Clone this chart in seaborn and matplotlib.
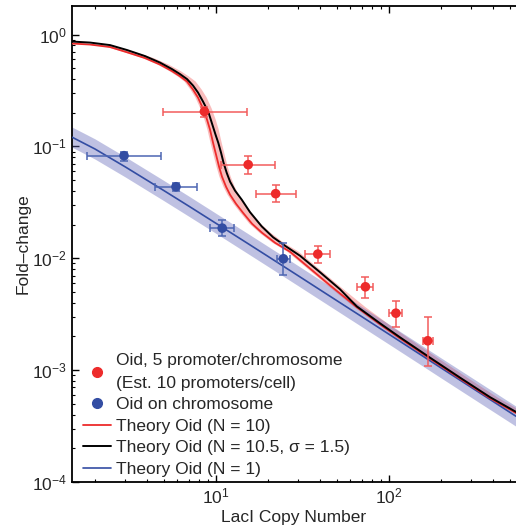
import numpy as np
import pandas as pd
import matplotlib
matplotlib.use("Agg")
import matplotlib.pyplot as plt
import seaborn as sns
from matplotlib.lines import Line2D

# ---------------- data ----------------
# Oid, 5 promoters/chromosome (red points)
red_x = [8.6, 15.4, 22.2, 38.9, 73.3, 110.0, 168.0]
red_y = [0.205, 0.0687, 0.0378, 0.0109, 0.00556, 0.00323, 0.00183]
red_x_lo = [4.95, 10.7, 17.1, 32.8, 65.3, 100.5, 157.0]
red_x_hi = [15.2, 22.1, 29.0, 45.8, 81.5, 120.0, 179.5]
red_y_lo = [0.185, 0.057, 0.032, 0.00906, 0.0044, 0.00245, 0.0011]
red_y_hi = [0.227, 0.0826, 0.0455, 0.0130, 0.00687, 0.00419, 0.00298]

# Oid on chromosome (blue points)
blue_x = [2.95, 5.89, 10.9, 24.6]
blue_y = [0.0826, 0.0436, 0.0186, 0.0099]
blue_x_lo = [1.80, 4.46, 9.27, 22.7]
blue_x_hi = [4.83, 7.8, 12.8, 26.9]
blue_y_lo = [0.0745, 0.0402, 0.0157, 0.00712]
blue_y_hi = [0.0897, 0.0474, 0.0221, 0.0138]

# Theory Oid (N = 10)
th_red_x = [1.477, 1.877, 2.449, 3.072, 3.902, 4.764, 5.589, 6.217, 6.825, 7.393, 7.9,
            8.446, 8.906, 9.268, 9.647, 10.04, 10.45, 10.87, 11.47, 12.1, 13.1, 14.38,
            16.21, 18.52, 22.02, 26.89, 35.09, 45.8, 65.3, 89.1, 116.2, 173.3, 258.3,
            385.1, 544.3]
th_red_y = [0.831, 0.814, 0.773, 0.694, 0.616, 0.539, 0.471, 0.4234, 0.3797, 0.322, 0.273,
            0.2177, 0.1735, 0.1412, 0.108, 0.0844, 0.0659, 0.0536, 0.0436, 0.037, 0.0307, 0.0255,
            0.02036, 0.0169, 0.01376, 0.01143, 0.00809, 0.00572, 0.00366, 0.002567, 0.001923,
            0.001266, 0.00084, 0.000561, 0.000414]
# band around it: upper (right-shifted) and lower (left-shifted) edges
red_band_hi_x = [1.477, 1.657, 2.106, 2.748, 3.447, 4.378, 5.345, 6.271, 6.975, 7.658, 8.295,
                 8.864, 9.476, 9.993, 10.40, 10.82, 11.26, 11.72, 12.20, 12.87, 13.58, 14.70,
                 16.13, 18.19, 20.78, 24.71, 30.17, 39.37, 51.39, 73.27, 99.97, 130.4, 194.4,
                 289.8, 432.1, 610.7]
red_band_hi_y = [0.836] + th_red_y
red_band_lo_x = [1.427, 1.814, 2.366, 2.968, 3.770, 4.603, 5.400, 6.007, 6.594, 7.143, 7.633,
                 8.160, 8.605, 8.955, 9.321, 9.700, 10.10, 10.50, 11.08, 11.69, 12.66, 13.89,
                 15.66, 17.89, 21.28, 25.98, 33.90, 44.25, 63.09, 86.09, 112.3, 167.4, 249.6,
                 372.1, 525.9, 544.3]
red_band_lo_y = th_red_y + [0.0004]

# Theory Oid (N = 10.5, sigma = 1.5)
th_black_x = [1.477, 1.877, 2.449, 3.072, 3.902, 4.764, 5.589, 6.217, 6.825, 7.393, 7.9,
              8.446, 9.063, 9.519, 9.972, 10.35, 10.73, 11.09, 11.58, 12.1, 12.93, 14.14,
              15.79, 18.45, 21.44, 25.5, 30.71, 40.09, 52.3, 65.3, 89.1, 116.2, 173.3,
              258.3, 385.1, 544.3]
th_black_y = [0.866, 0.848, 0.805, 0.727, 0.642, 0.5615, 0.491, 0.443, 0.3997, 0.3497, 0.3027,
              0.2514, 0.2033, 0.1598, 0.1274, 0.1074, 0.0879, 0.0716, 0.0579, 0.0484, 0.0402,
              0.0334, 0.0258, 0.01926, 0.01542, 0.01275, 0.01053, 0.0075, 0.00528, 0.00372,
              0.00262, 0.001964, 0.001292, 0.000857, 0.000573, 0.000423]

# Theory Oid (N = 1) with band
th_blue_x = [1.476, 2.0, 3.0, 5.0, 7.0, 10.0, 15.0, 20.0, 30.0, 50.0, 70.0,
             100.0, 150.0, 200.0, 300.0, 400.0, 544.0]
th_blue_y = [0.121, 0.095, 0.0656, 0.0404, 0.0292, 0.0206, 0.01384, 0.01042, 0.00697,
             0.00419, 0.0030, 0.0021, 0.0014, 0.00105, 0.000701, 0.000526, 0.000387]
th_blue_lo = [0.0984, 0.0772, 0.0533, 0.0328, 0.0237, 0.01675, 0.01125, 0.00847, 0.00567,
              0.00341, 0.00244, 0.00171, 0.00114, 0.000854, 0.00057, 0.000428, 0.000315]
th_blue_hi = [0.149, 0.117, 0.0807, 0.0497, 0.0359, 0.0253, 0.0170, 0.0128, 0.00857,
              0.00515, 0.00369, 0.00258, 0.00172, 0.00129, 0.000862, 0.000647, 0.000476]

labels = ["Oid, 5 promoter/chromosome\n(Est. 10 promoters/cell)",
          "Oid on chromosome",
          "Theory Oid (N = 10)",
          "Theory Oid (N = 10.5, \u03c3 = 1.5)",
          "Theory Oid (N = 1)"]

# ---------------- style ----------------
sns.set_style("ticks")
plt.rcParams['font.family'] = ['Liberation Sans', 'DejaVu Sans']
plt.rcParams['mathtext.fontset'] = 'custom'
plt.rcParams['mathtext.rm'] = 'Liberation Sans'
plt.rcParams['mathtext.it'] = 'Liberation Sans:italic'
plt.rcParams['mathtext.bf'] = 'Liberation Sans:bold'

RED = (0.93, 0.17, 0.17)
RED_ERR = (0.95, 0.36, 0.36)
BLUE = (0.20, 0.30, 0.64)
BLUE_ERR = (0.30, 0.40, 0.70)
FS = 12.5

fig = plt.figure(figsize=(5.16, 5.32), dpi=100)
ax = fig.add_axes([72 / 516, 50 / 532, 444 / 516, 476 / 532])
ax.set_xscale('log')
ax.set_yscale('log')

# bands
ax.fill(red_band_hi_x + red_band_lo_x[::-1], red_band_hi_y + red_band_lo_y[::-1],
        color=(0.95, 0.42, 0.42), alpha=0.45, lw=0, zorder=1)
ax.fill_between(th_blue_x, th_blue_lo, th_blue_hi, color=(0.38, 0.40, 0.72), alpha=0.4, lw=0, zorder=2)

# theory lines
sns.lineplot(x=th_blue_x, y=th_blue_y, ax=ax, color=BLUE, lw=1.2, sort=False, estimator=None, zorder=3)
sns.lineplot(x=th_red_x, y=th_red_y, ax=ax, color=RED, lw=1.3, sort=False, estimator=None, zorder=4)
sns.lineplot(x=th_black_x, y=th_black_y, ax=ax, color='black', lw=1.4, sort=False, estimator=None, zorder=5)

# error bars
rx = np.array(red_x); ry = np.array(red_y)
ax.errorbar(rx, ry,
            xerr=[rx - np.array(red_x_lo), np.array(red_x_hi) - rx],
            yerr=[ry - np.array(red_y_lo), np.array(red_y_hi) - ry],
            fmt='none', ecolor=RED_ERR, elinewidth=1.1, capsize=3.2, capthick=1.1, zorder=6)
bx = np.array(blue_x); by = np.array(blue_y)
ax.errorbar(bx, by,
            xerr=[bx - np.array(blue_x_lo), np.array(blue_x_hi) - bx],
            yerr=[by - np.array(blue_y_lo), np.array(blue_y_hi) - by],
            fmt='none', ecolor=BLUE_ERR, elinewidth=1.1, capsize=3.2, capthick=1.1, zorder=6)

# points
sns.scatterplot(x=red_x, y=red_y, ax=ax, color=RED, s=48, edgecolor='none', zorder=7)
sns.scatterplot(x=blue_x, y=blue_y, ax=ax, color=BLUE, s=48, edgecolor='none', zorder=7)

ax.set_xlim(1.476, 544)
ax.set_ylim(1e-4, 1.8)

ax.set_xlabel("LacI Copy Number", fontsize=FS, labelpad=2)
ax.set_ylabel("Fold\u2013change", fontsize=FS, labelpad=1)

for sp in ['left', 'bottom', 'top']:
    ax.spines[sp].set_linewidth(1.3)
    ax.spines[sp].set_color('black')
ax.spines['right'].set_visible(False)

ax.tick_params(which='both', direction='in', top=True, right=False, labelsize=FS, color='black')
ax.tick_params(which='major', length=5, width=1.0)
ax.tick_params(which='minor', length=2.5, width=0.8)

handles = [Line2D([], [], marker='o', ls='none', color=RED, markersize=7),
           Line2D([], [], marker='o', ls='none', color=BLUE, markersize=7),
           Line2D([], [], color=RED, lw=1.3),
           Line2D([], [], color='black', lw=1.4),
           Line2D([], [], color=BLUE, lw=1.2)]
leg = ax.legend(handles, labels, loc='lower left', bbox_to_anchor=(11 / 444, 5 / 476),
                frameon=False, fontsize=FS, handlelength=1.6, handletextpad=0.3,
                labelspacing=0.37, borderpad=0, borderaxespad=0)
for t in leg.get_texts():
    t.set_linespacing(1.65)

fig.savefig("out.png", dpi=100)
